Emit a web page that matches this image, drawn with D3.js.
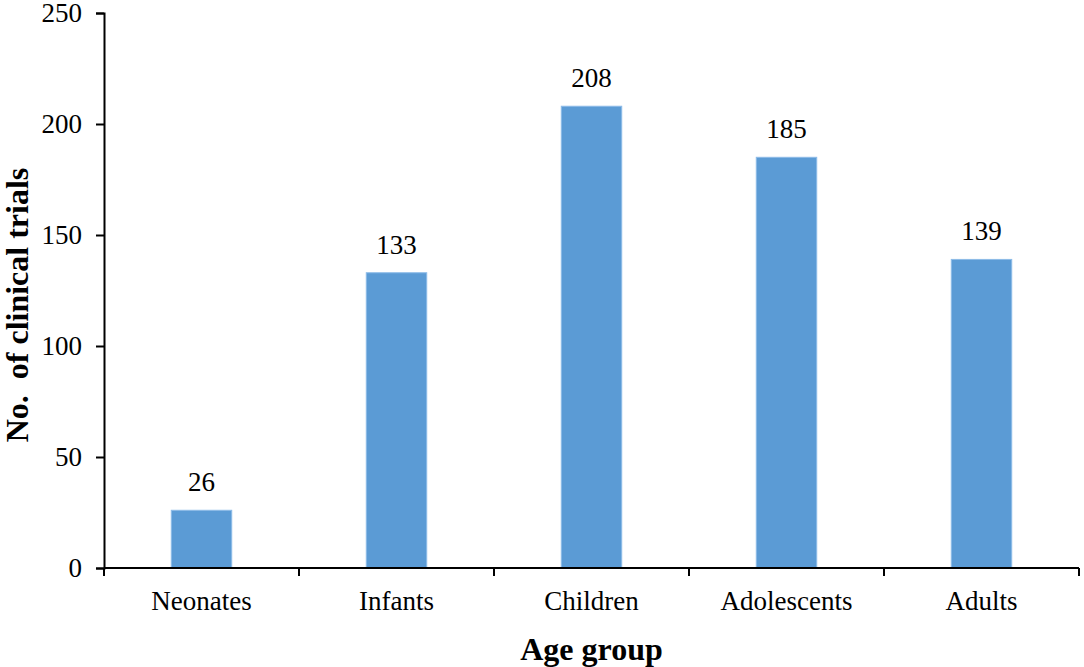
<!DOCTYPE html>
<html>
<head>
<meta charset="utf-8">
<script src="https://cdn.jsdelivr.net/npm/d3@7"></script>
<style>
  body { margin: 0; background: #fff; }
  text { font-family: "Liberation Serif", "Times New Roman", serif; }
</style>
</head>
<body>
<script>
// data
var groups = ["Neonates", "Infants", "Children", "Adolescents", "Adults"];
var trials = [26, 133, 208, 185, 139];
var yTicks = [0, 50, 100, 150, 200, 250];

var width = 1084, height = 667;
var margin = { top: 13, right: 5, bottom: 99, left: 104 };

var svg = d3.select("body").append("svg")
    .attr("width", width)
    .attr("height", height);

var x = d3.scaleBand()
    .domain(groups)
    .range([margin.left, width - margin.right])
    .padding(0);

var y = d3.scaleLinear()
    .domain([0, 250])
    .range([height - margin.bottom, margin.top]);

var barW = x.bandwidth() * 0.31;

// bars
svg.selectAll("rect.bar")
    .data(trials)
    .enter()
    .append("rect")
    .attr("class", "bar")
    .attr("x", function (d, i) { return x(groups[i]) + x.bandwidth() / 2 - barW / 2; })
    .attr("y", function (d) { return y(d); })
    .attr("width", barW)
    .attr("height", function (d) { return y(0) - y(d); })
    .attr("fill", "#5B9BD5")
    .attr("stroke", "#8DBBE8")
    .attr("stroke-width", 1);

// value labels
svg.selectAll("text.val")
    .data(trials)
    .enter()
    .append("text")
    .attr("class", "val")
    .attr("x", function (d, i) { return x(groups[i]) + x.bandwidth() / 2; })
    .attr("y", function (d) { return y(d) - 19; })
    .attr("text-anchor", "middle")
    .attr("font-size", 27)
    .attr("fill", "#000")
    .text(function (d) { return d; });

// y axis
var yAxis = svg.append("g")
    .attr("transform", "translate(" + margin.left + ",0)")
    .call(d3.axisLeft(y).tickValues(yTicks).tickSize(8).tickPadding(14));
yAxis.selectAll("text").attr("font-size", 27).attr("fill", "#000")
    .attr("font-family", "Liberation Serif");
yAxis.selectAll("line, path").attr("stroke", "#000").attr("stroke-width", 2);

// x axis: ticks sit at the band edges
var xAxis = svg.append("g")
    .attr("transform", "translate(0," + y(0) + ")");
xAxis.append("line")
    .attr("x1", x.range()[0]).attr("x2", x.range()[1])
    .attr("stroke", "#000").attr("stroke-width", 2);
var edges = groups.map(function (g) { return x(g); }).concat([x.range()[1]]);
xAxis.selectAll("line.tick")
    .data(edges)
    .enter()
    .append("line")
    .attr("class", "tick")
    .attr("x1", function (d) { return d; })
    .attr("x2", function (d) { return d; })
    .attr("y1", 0).attr("y2", 8)
    .attr("stroke", "#000").attr("stroke-width", 2);
xAxis.selectAll("text")
    .data(groups)
    .enter()
    .append("text")
    .attr("x", function (d) { return x(d) + x.bandwidth() / 2; })
    .attr("y", 42)
    .attr("text-anchor", "middle")
    .attr("font-size", 27)
    .attr("fill", "#000")
    .text(function (d) { return d; });

// axis titles
svg.append("text")
    .attr("x", (x.range()[0] + x.range()[1]) / 2)
    .attr("y", 660)
    .attr("text-anchor", "middle")
    .attr("font-size", 32)
    .attr("font-weight", "bold")
    .text("Age group");

svg.append("text")
    .attr("transform", "translate(28,305) rotate(-90)")
    .attr("text-anchor", "middle")
    .attr("font-size", 32)
    .attr("font-weight", "bold")
    .attr("xml:space", "preserve")
    .style("white-space", "pre")
    .text("No.  of clinical trials");
</script>
</body>
</html>
